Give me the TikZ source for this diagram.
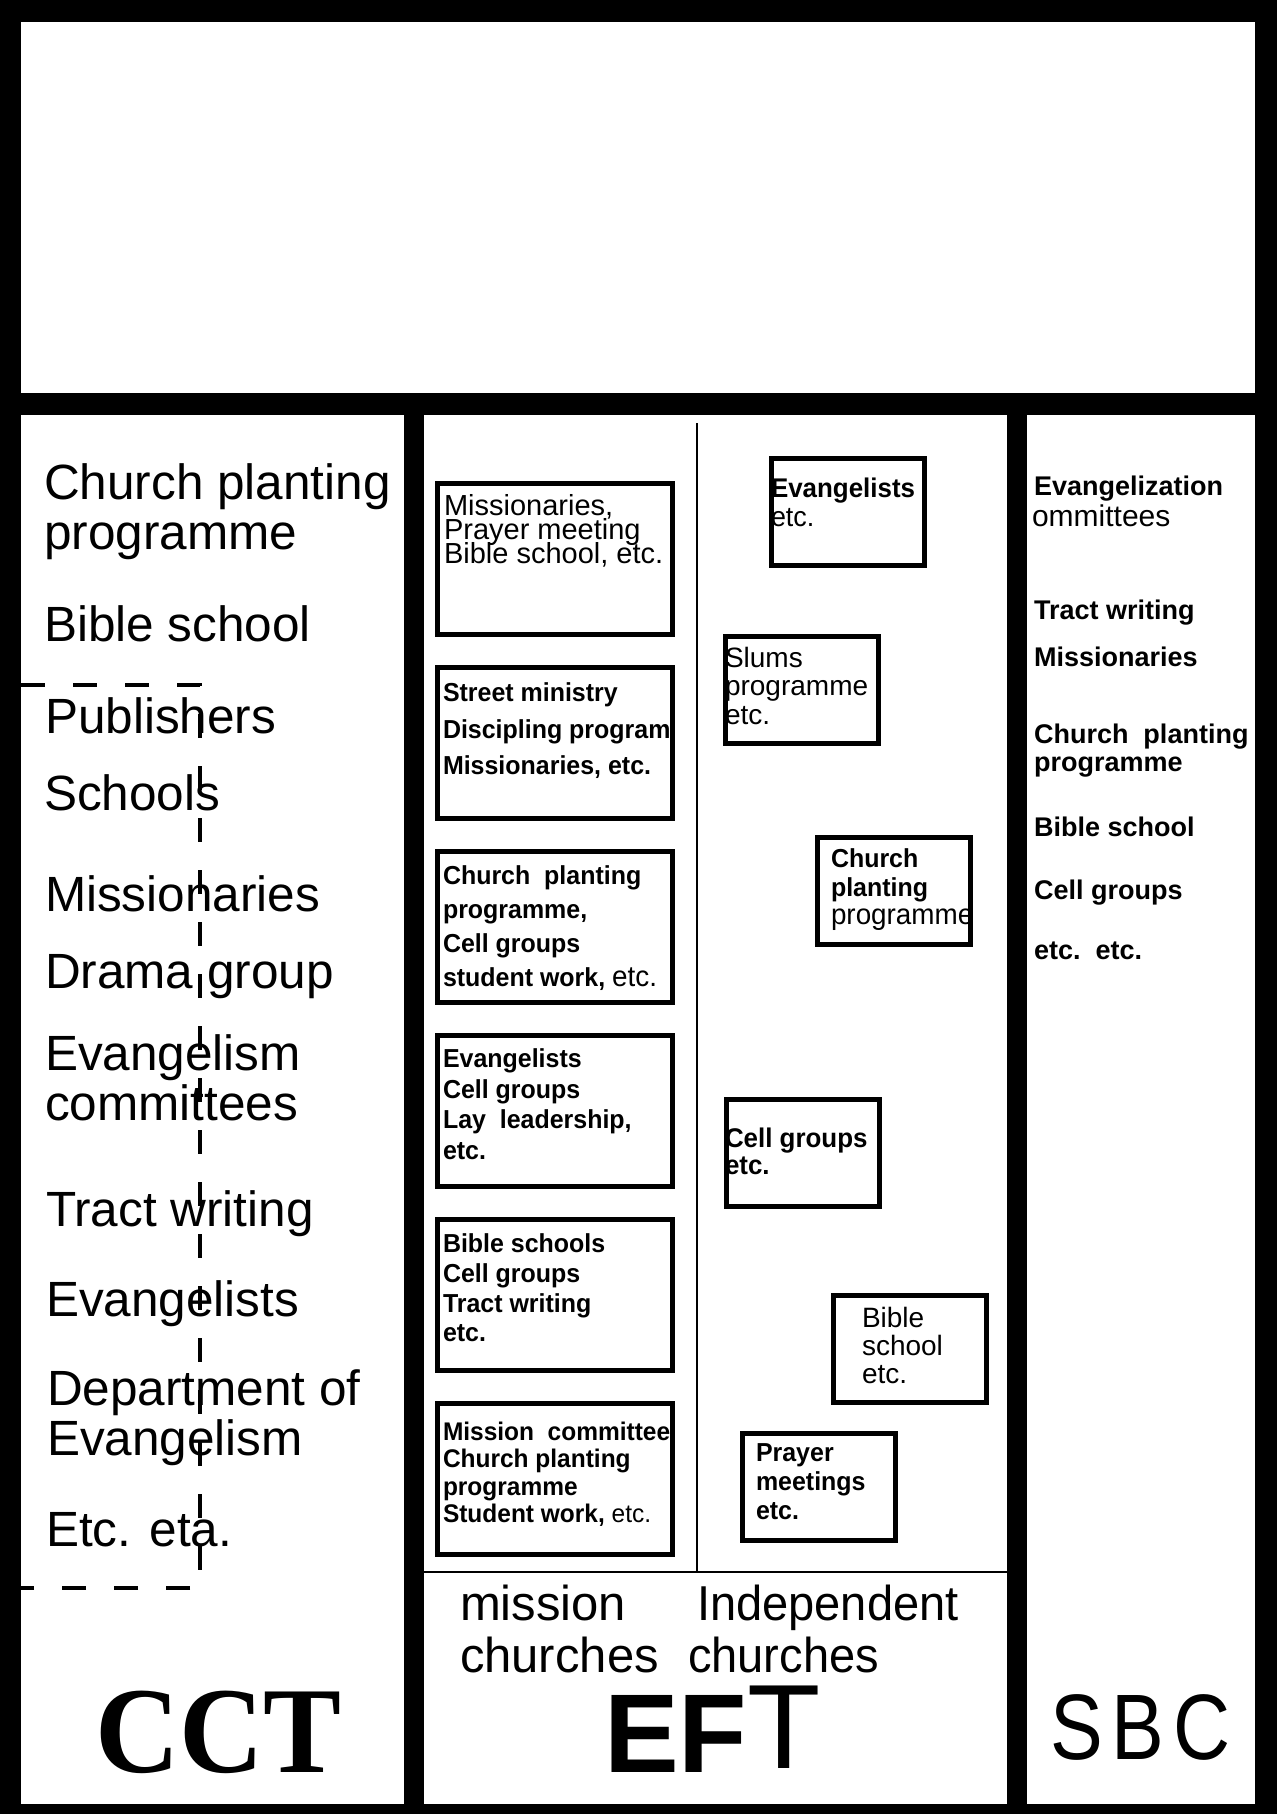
\documentclass[tikz,border=0pt]{standalone}
\usepackage{fontspec}
\setmainfont{Liberation Sans}
\newfontfamily\narrowsans{Liberation Sans}[FakeStretch=0.96]
\newfontfamily\sbcsans{Liberation Sans}[FakeStretch=0.85]
\newfontfamily\cctserif{Liberation Serif}[FakeStretch=0.95]
\usetikzlibrary{calc}
\usetikzlibrary{positioning}
\lineskiplimit=-50pt

\begin{document}
\begin{tikzpicture}[x=1pt, y=-1pt,
    panel/.style={fill=white, inner sep=0, outer sep=0, anchor=north west},
    mbox/.style={draw, line width=5pt, minimum width=235pt, minimum height=151pt, inner sep=0},
    ibox/.style={draw, line width=5pt, minimum width=153pt, minimum height=107pt, inner sep=0},
    lbl/.style={align=left, inner sep=0, outer sep=0, anchor=north west},
    cctlbl/.style={lbl, font=\fontsize{49.5}{49.5}\selectfont},
    boxtxt/.style={lbl, font=\narrowsans\bfseries\fontsize#1\selectfont},
    plaintxt/.style={lbl, font=\fontsize#1\selectfont},
    sbclbl/.style={lbl, font=\bfseries\fontsize{27}{28}\selectfont}]
  \useasboundingbox (0,0) rectangle (1277,1814);
  \fill (0,0) rectangle (1277,1814);

  \node[panel, minimum width=1234pt, minimum height=371pt] (top) at (21,22) {};
  \node[panel, minimum width=383pt, minimum height=1389pt] (cct) at (21,415) {};
  \node[panel, minimum width=583pt, minimum height=1389pt] (eft) at (424,415) {};
  \node[panel, minimum width=228pt, minimum height=1389pt] (sbc) at (1027,415) {};

  % CCT column
  \node[cctlbl] (c1) at (44,464) {Church planting\\programme};
  \node[cctlbl] (c2) at (44,606) {Bible school};
  \node[cctlbl] (c3) at (45,698) {Publishers};
  \node[cctlbl] (c4) at (44,775) {Schools};
  \node[cctlbl] (c5) at (45,876) {Missionaries};
  \node[cctlbl] (c6) at (45,954) {Drama group};
  \node[cctlbl, font=\fontsize{49.5}{50}\selectfont] (c7) at (45,1035) {Evangelism\\committees};
  \node[cctlbl] (c8) at (46,1191) {Tract writing};
  \node[cctlbl] (c9) at (46,1281) {Evangelists};
  \node[cctlbl] (c10) at (47,1370) {Department of\\Evangelism};
  \node[cctlbl] (c11) at (46,1512) {Etc. eta.};

  \coordinate (d1) at (21,685);
  \coordinate (d2) at (200,685);
  \coordinate (d3) at (200,1588);
  \coordinate (d4) at (21,1588);
  \draw[line width=4pt, dash pattern=on 24pt off 28pt] (d1) -- (d2) -- (d3) -- (d4);

  \node[anchor=base west, inner sep=0, outer sep=0,
        font=\cctserif\bfseries\fontsize{123}{123}\selectfont] (cctname) at (95,1772) {CCT};

  % EFT column
  \coordinate (split) at (697,423);
  \coordinate (base) at (697,1572);
  \draw[line width=2.5pt] (split) -- (base);
  \draw[line width=2.5pt] (eft.west |- base) -- (eft.east |- base);

  \node[mbox] (m1) at (555,559) {};
  \node[mbox, below=28pt of m1] (m2) {};
  \node[mbox, below=28pt of m2] (m3) {};
  \node[mbox, below=28pt of m3] (m4) {};
  \node[mbox, below=28pt of m4] (m5) {};
  \node[mbox, below=28pt of m5] (m6) {};

  \node[plaintxt={{29}{24}}, below right=13pt and 9pt of m1.north west] (m1t)
    {Missionaries,\\Prayer meeting\\Bible school, etc.};
  \node[boxtxt={{26}{36.5}}, below right=18pt and 8pt of m2.north west] (m2t)
    {Street ministry\\Discipling program\\Missionaries, etc.};
  \node[boxtxt={{26}{34}}, below right=17pt and 8pt of m3.north west] (m3t)
    {Church\ \ planting\\programme,\\Cell groups\\student work, {\mdseries\fontsize{29}{34}\selectfont etc.}};
  \node[boxtxt={{26}{30.4}}, below right=16pt and 8pt of m4.north west] (m4t)
    {Evangelists\\Cell groups\\Lay\ \ leadership,\\etc.};
  \node[boxtxt={{26}{29.7}}, below right=17pt and 8pt of m5.north west] (m5t)
    {Bible schools\\Cell groups\\Tract writing\\etc.};
  \node[boxtxt={{25.5}{27.5}}, below right=21pt and 8pt of m6.north west] (m6t)
    {Mission\ \ committee\\Church planting\\programme\\Student work, {\mdseries etc.}};

  \node[ibox] (i1) at (848,512) {};
  \node[ibox] (i2) at (802,690) {};
  \node[ibox] (i3) at (894,891) {};
  \node[ibox] (i4) at (803,1153) {};
  \node[ibox] (i5) at (910,1349) {};
  \node[ibox] (i6) at (819,1487) {};

  \node[boxtxt={{27}{29}}, below right=22pt and 2pt of i1.north west] (i1t)
    {Evangelists\\{\mdseries\fontsize{28}{29}\selectfont etc.}};
  \node[plaintxt={{28}{28.5}}, below right=13pt and 2pt of i2.north west] (i2t)
    {Slums\\programme\\etc.};
  \node[boxtxt={{26}{28.5}}, below right=14pt and 16pt of i3.north west] (i3t)
    {Church\\planting\\{\mdseries\fontsize{29}{28.5}\selectfont programme}};
  \node[boxtxt={{27}{27}}, below right=31pt and 1pt of i4.north west] (i4t)
    {Cell groups\\etc.};
  \node[plaintxt={{28}{28}}, below right=14pt and 31pt of i5.north west] (i5t)
    {Bible\\school\\etc.};
  \node[boxtxt={{26}{29}}, below right=13pt and 16pt of i6.north west] (i6t)
    {Prayer\\meetings\\etc.};

  \node[lbl, font=\fontsize{49}{52}\selectfont] (mis) at (460,1585) {mission\\churches};
  \node[lbl, font=\narrowsans\fontsize{49}{52}\selectfont] (ind) at (688,1585) {\kern9pt Independent\\churches};
  \node[anchor=base west, inner sep=0, outer sep=0, font=\bfseries\fontsize{112}{112}\selectfont] (eftname)
    at (604,1772) {EF\mdseries\fontsize{120}{120}\selectfont\raisebox{4pt}{T}};

  % SBC column
  \node[sbclbl] (s1) at (1034,476) {Evangelization};
  \node[lbl, font=\fontsize{30}{31}\selectfont] (s2) at (1032,505) {ommittees};
  \node[sbclbl] (s3) at (1034,600) {Tract writing};
  \node[sbclbl] (s4) at (1034,647) {Missionaries};
  \node[sbclbl] (s5) at (1034,724) {Church\ \ planting\\programme};
  \node[sbclbl] (s6) at (1034,817) {Bible school};
  \node[sbclbl] (s7) at (1034,880) {Cell groups};
  \node[sbclbl] (s8) at (1034,942) {etc.\ \ etc.};

  \node[anchor=base west, inner sep=0, outer sep=0, font=\sbcsans\fontsize{93}{93}\selectfont] (sbcname)
    at (1050,1759) {S\kern9pt B\kern9pt C};
\end{tikzpicture}
\end{document}
